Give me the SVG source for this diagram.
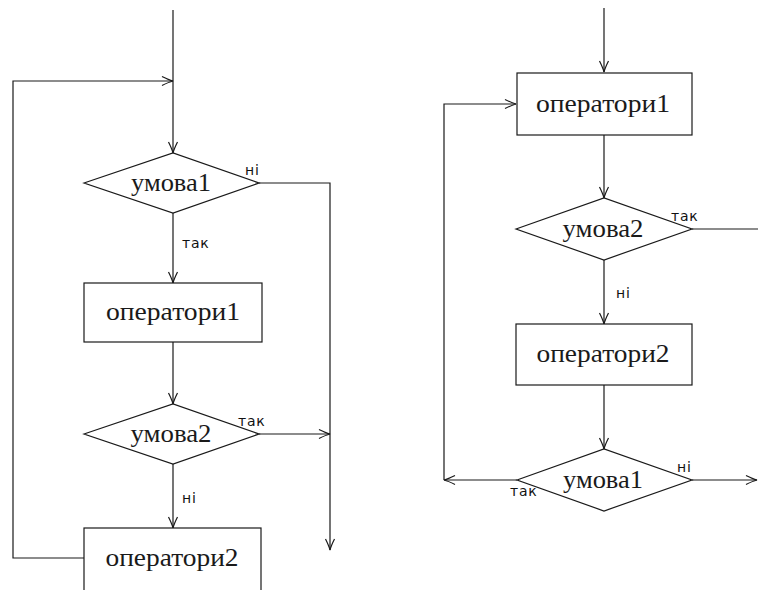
<svg xmlns="http://www.w3.org/2000/svg" width="758" height="590" viewBox="0 0 758 590">
<style>
.s{fill:#fff;stroke:#1a1a1a;stroke-width:1.2}
.c{fill:none;stroke:#1a1a1a;stroke-width:1.2}
.t{font-family:"Liberation Serif","DejaVu Serif",serif;font-size:26px;fill:#1a1a1a;text-anchor:middle}
.l{font-family:"DejaVu Sans","Noto Sans",sans-serif;font-size:14px;fill:#111;letter-spacing:0.8px}
</style>
<defs>
<marker id="a" markerUnits="userSpaceOnUse" markerWidth="14" markerHeight="12" viewBox="-12 -6 14 12" refX="0" refY="0" orient="auto">
<path d="M-11,-4.5 Q-4,-1 0,0 Q-4,1 -11,4.5" fill="none" stroke="#1a1a1a" stroke-width="1.2"/>
</marker>
</defs>
<g id="connectors">
<path class="c" d="M173,10 V153" marker-end="url(#a)"/>
<path class="c" d="M173,558 H13 V81 H173" marker-end="url(#a)"/>
<path class="c" d="M173,213 V283" marker-end="url(#a)"/>
<path class="c" d="M259,183 H330 V550" marker-end="url(#a)"/>
<path class="c" d="M173,342 V404" marker-end="url(#a)"/>
<path class="c" d="M259,434 H330" marker-end="url(#a)"/>
<path class="c" d="M173,464 V528" marker-end="url(#a)"/>
<path class="c" d="M604,8 V72" marker-end="url(#a)"/>
<path class="c" d="M604,135 V198" marker-end="url(#a)"/>
<path class="c" d="M692,229 H758"/>
<path class="c" d="M604,260 V324" marker-end="url(#a)"/>
<path class="c" d="M604,385 V449" marker-end="url(#a)"/>
<path class="c" d="M517,480 H444" marker-end="url(#a)"/>
<path class="c" d="M444,480 V104 H516" marker-end="url(#a)"/>
<path class="c" d="M692,480 H757" marker-end="url(#a)"/>
<text class="l" x="245" y="175">ні</text>
<text class="l" x="182" y="248">так</text>
<text class="l" x="238" y="426">так</text>
<text class="l" x="182" y="503">ні</text>
<text class="l" x="671" y="221">так</text>
<text class="l" x="616" y="298">ні</text>
<text class="l" x="677" y="472">ні</text>
<text class="l" x="510" y="496">так</text>
</g>
<g id="L_cond1"><polygon class="s" points="84,183 173,153 259,183 173,213"/><text class="t" x="171" y="191" textLength="80" lengthAdjust="spacingAndGlyphs">умова1</text></g>
<g id="L_ops1"><rect class="s" x="84" y="283" width="178" height="59"/><text class="t" x="173" y="320" textLength="134" lengthAdjust="spacingAndGlyphs">оператори1</text></g>
<g id="L_cond2"><polygon class="s" points="84,434 173,404 259,434 173,464"/><text class="t" x="171" y="442" textLength="81" lengthAdjust="spacingAndGlyphs">умова2</text></g>
<g id="L_ops2"><rect class="s" x="84" y="528" width="177" height="70"/><text class="t" x="172" y="566" textLength="133" lengthAdjust="spacingAndGlyphs">оператори2</text></g>
<g id="R_ops1"><rect class="s" x="517" y="73" width="175" height="62"/><text class="t" x="603" y="112" textLength="134" lengthAdjust="spacingAndGlyphs">оператори1</text></g>
<g id="R_cond2"><polygon class="s" points="516,229 604,198 692,229 604,260"/><text class="t" x="603" y="237" textLength="81" lengthAdjust="spacingAndGlyphs">умова2</text></g>
<g id="R_ops2"><rect class="s" x="516" y="324" width="176" height="61"/><text class="t" x="603" y="362" textLength="133" lengthAdjust="spacingAndGlyphs">оператори2</text></g>
<g id="R_cond1"><polygon class="s" points="517,480 604,449 692,480 604,511"/><text class="t" x="603" y="488" textLength="80" lengthAdjust="spacingAndGlyphs">умова1</text></g>
</svg>
